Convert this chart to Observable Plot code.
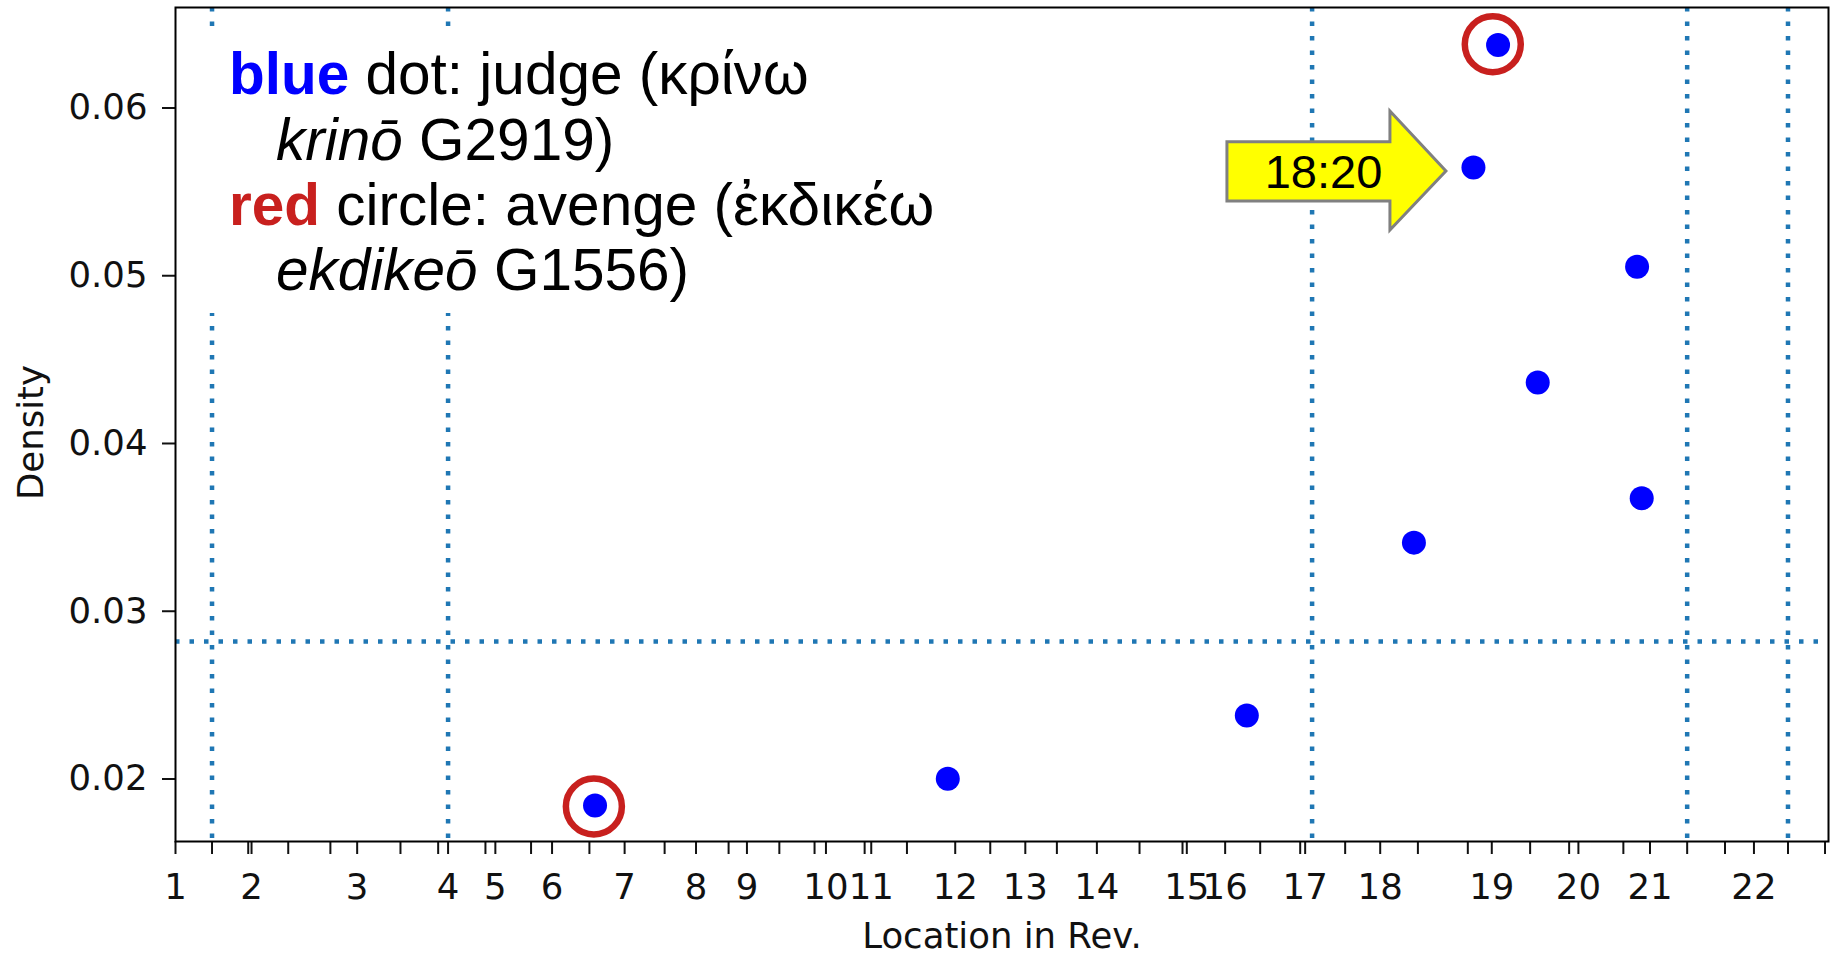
<!DOCTYPE html>
<html>
<head>
<meta charset="utf-8">
<script src="https://cdn.jsdelivr.net/npm/d3@7"></script>
<script src="https://cdn.jsdelivr.net/npm/@observablehq/plot@0.6"></script>
<style>
  html, body { margin: 0; padding: 0; background: #fff; }
  #chart { width: 1832px; height: 954px; }
</style>
</head>
<body>
<div id="chart"></div>
<script>
// Location in Revelation, expressed as percent of the book (0–100)
const chapterLabels = ["1","2","3","4","5","6","7","8","9","10","11","12","13","14","15","16","17","18","19","20","21","22"];
const chapterStarts = [0, 4.60, 10.99, 16.49, 19.35, 22.78, 27.17, 31.49, 34.57, 39.35, 42.09, 47.17, 51.41, 55.74, 61.18, 63.50, 68.34, 72.88, 79.63, 84.87, 89.20, 95.49];
const minorTicks = [2.21, 4.40, 6.82, 9.37, 13.61, 15.89, 18.75, 21.51, 25.04, 29.59, 33.46, 36.53, 38.66, 41.69, 44.25, 49.29, 53.32, 58.32, 60.92, 65.62, 68.04, 70.76, 75.16, 78.18, 81.95, 84.31, 87.59, 91.45, 93.74, 97.55, 99.79];
const yTicks = [0.02, 0.03, 0.04, 0.05, 0.06];

// blue dots: judge (κρίνω)
const judgeLoc = [25.38, 46.72, 64.81, 74.92, 78.52, 80.01, 82.41, 88.42, 88.70];
const judgeDensity = [0.01842, 0.02002, 0.02379, 0.03409, 0.05645, 0.06376, 0.04363, 0.05053, 0.03674];

// red circles: avenge (ἐκδικέω)
const avengeLoc = [25.31, 79.69];
const avengeDensity = [0.01836, 0.06380];

// reference lines
const sectionLines = [2.21, 16.49, 68.76, 91.45, 97.55];
const densityThreshold = [0.0282];

// annotation
const annotLabel = "18:20";
const annotIndex = 4;

const judge = judgeLoc.map((x, i) => ({x, y: judgeDensity[i]}));
const avenge = avengeLoc.map((x, i) => ({x, y: avengeDensity[i]}));
const labelOf = new Map(chapterStarts.map((v, i) => [v, chapterLabels[i]]));

const dotted = {stroke: "#1f77b4", strokeWidth: 4.5, strokeDasharray: "4.5,10"};

const chart = Plot.plot({
  width: 1832,
  height: 954,
  marginLeft: 175,
  marginRight: 4,
  marginTop: 7,
  marginBottom: 113,
  x: {domain: [0, 100]},
  y: {domain: [0.016274, 0.06599]},
  style: {fontFamily: "DejaVu Sans", fontSize: "35.5px", color: "#111", background: "#fff"},
  marks: [
    Plot.ruleX(sectionLines, dotted),
    Plot.ruleY(densityThreshold, dotted),
    Plot.axisY(yTicks, {tickSize: 13, tickPadding: 15, strokeWidth: 2, tickFormat: d3.format(".2f"), label: null}),
    Plot.axisX(chapterStarts, {tickSize: 13, tickPadding: 19, strokeWidth: 2, tickFormat: d => labelOf.get(d), label: null}),
    Plot.axisX(minorTicks, {tickSize: 13, strokeWidth: 2, tickFormat: () => "", label: null}),
    Plot.frame({stroke: "#000", strokeWidth: 2}),
    Plot.text(["Density"], {frameAnchor: "left", textAnchor: "middle", lineAnchor: "middle", rotate: -90, dx: -143.5, dy: 8}),
    Plot.text(["Location in Rev."], {frameAnchor: "bottom", textAnchor: "middle", lineAnchor: "middle", dy: 95}),
    Plot.dot(judge, {x: "x", y: "y", r: 12, fill: "#0000ff"}),
    Plot.dot(avenge, {x: "x", y: "y", r: 28, stroke: "#c8201e", strokeWidth: 6.5, fill: "none"})
  ]
});

document.getElementById("chart").appendChild(chart);

const svg = d3.select(chart);
const xs = chart.scale("x"), ys = chart.scale("y");

// Legend box (white background hides the dotted lines behind it)
svg.append("rect").attr("x", 209).attr("y", 33).attr("width", 740).attr("height", 280).attr("fill", "#fff");
const lg = svg.append("g")
  .attr("font-family", "'Liberation Sans', Arial, sans-serif")
  .attr("font-size", 58.5)
  .attr("text-anchor", "start")
  .attr("fill", "#000")
  .style("white-space", "pre");
function line(x, y, parts) {
  const t = lg.append("text").attr("x", x).attr("y", y).attr("text-anchor", "start");
  for (const p of parts) {
    const s = t.append("tspan").text(p.text);
    if (p.bold) s.attr("font-weight", "bold");
    if (p.italic) s.attr("font-style", "italic");
    if (p.color) s.attr("fill", p.color);
  }
}
line(229, 94, [{text: "blue", bold: true, color: "#0000ff"}, {text: " dot: judge (κρίνω"}]);
line(276, 159.5, [{text: "krinō", italic: true}, {text: " G2919)"}]);
line(229, 225, [{text: "red", bold: true, color: "#c8201e"}, {text: " circle: avenge (ἐκδικέω"}]);
line(276, 290, [{text: "ekdikeō", italic: true}, {text: " G1556)"}]);

// Arrow annotation pointing at the 18:20 dot
const px = xs.apply(judge[annotIndex].x), py = ys.apply(judge[annotIndex].y);
const pts = [
  [-27, 4], [-83, 63], [-83, 34], [-246, 34], [-246, -25.4], [-83, -25.4], [-83, -56]
].map(([dx, dy]) => [px + dx, py + dy]);
const ag = svg.append("g");
ag.append("polygon")
  .attr("points", pts.map(p => p.join(",")).join(" "))
  .attr("fill", "#ffff00")
  .attr("stroke", "#808080")
  .attr("stroke-width", 3)
  .attr("stroke-linejoin", "miter");
ag.append("text")
  .attr("x", px - 149.4)
  .attr("y", py + 21)
  .attr("text-anchor", "middle")
  .attr("font-family", "'Liberation Sans', Arial, sans-serif")
  .attr("font-size", 47)
  .attr("fill", "#000")
  .text(annotLabel);
</script>
</body>
</html>
